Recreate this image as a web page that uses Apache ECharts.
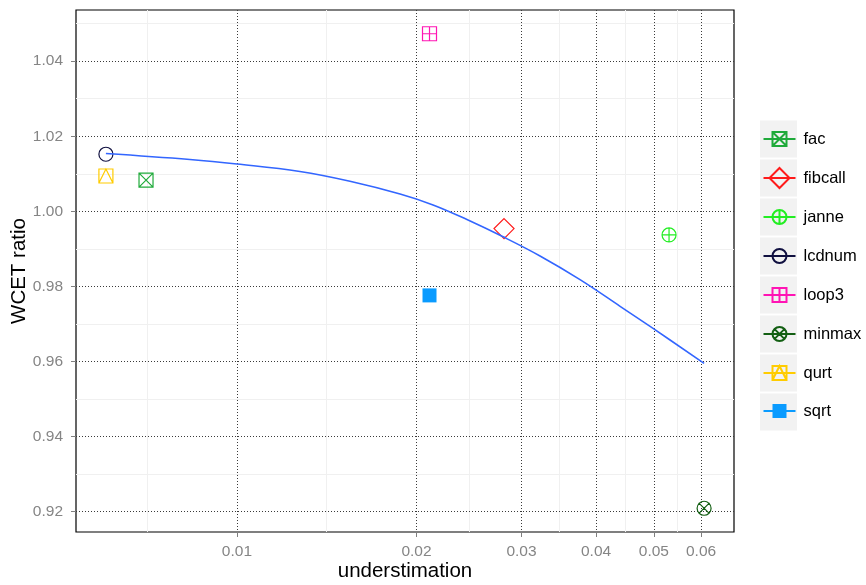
<!DOCTYPE html>
<html>
<head>
<meta charset="utf-8">
<script src="https://cdn.jsdelivr.net/npm/echarts@6/dist/echarts.min.js"></script>
<style>
  html, body { margin: 0; padding: 0; background: #ffffff; }
  #chart { width: 866px; height: 585px; }
</style>
</head>
<body>
<div id="chart"></div>
<script>
// Benchmarks: underestimation vs. WCET ratio
const benchmarks = ['fac', 'fibcall', 'janne', 'lcdnum', 'loop3', 'minmax', 'qurt', 'sqrt'];
const understimation = [0.00704, 0.02804, 0.05302, 0.00603, 0.02103, 0.0607, 0.00603, 0.02103];
const wcetRatio = [1.0083, 0.9954, 0.9937, 1.0152, 1.0473, 0.9209, 1.0094, 0.9776];

// Smoothed trend (loess) sampled along the fitted curve
const trendX = [0.00603, 0.00834, 0.0100, 0.01275, 0.01547, 0.01877, 0.02132, 0.02430, 0.02794, 0.03222, 0.03760, 0.04389, 0.04985, 0.0607];
const trendY = [1.0154, 1.0138, 1.0126, 1.0106, 1.0080, 1.0046, 1.0017, 0.9978, 0.9932, 0.9881, 0.9818, 0.9747, 0.9688, 0.9595];

// Axis breaks
const xTicks = [0.01, 0.02, 0.03, 0.04, 0.05, 0.06];
const xTickLabels = ['0.01', '0.02', '0.03', '0.04', '0.05', '0.06'];
const xMinorTicks = [0.00707, 0.01414, 0.02449, 0.03464, 0.04472, 0.05477];
const yTicks = [0.92, 0.94, 0.96, 0.98, 1.00, 1.02, 1.04];
const yTickLabels = ['0.92', '0.94', '0.96', '0.98', '1.00', '1.02', '1.04'];
const yMinorTicks = [0.93, 0.95, 0.97, 0.99, 1.01, 1.03, 1.05];

// Per-benchmark colour and marker
const colors = ['#1faa3a', '#ff1a1a', '#22ee22', '#101040', '#ff14b4', '#135f13', '#ffcc00', '#0a9bff'];
const PAD = 'M0 0M20 20';
const SQ = 'M3 3H17V17H3Z';
const CIRC = 'M3 10A7 7 0 1 0 17 10A7 7 0 1 0 3 10Z';
const markers = [
  PAD + SQ + 'M3 3L17 17M17 3L3 17',
  PAD + 'M10 0L20 10L10 20L0 10Z',
  PAD + CIRC + 'M10 3V17M3 10H17',
  PAD + CIRC,
  PAD + SQ + 'M10 3V17M3 10H17',
  PAD + CIRC + 'M4.6 4.6L15.4 15.4M15.4 4.6L4.6 15.4',
  PAD + SQ + 'M3 17L10 3L17 17',
  PAD + SQ
];
const filled = [false, false, false, false, false, false, false, true];

// Axis limits with 5% padding (log space for x)
const lx = understimation.map(Math.log10);
const lxMin = Math.min(...lx), lxMax = Math.max(...lx);
const xMin = Math.pow(10, lxMin - 0.05 * (lxMax - lxMin));
const xMax = Math.pow(10, lxMax + 0.05 * (lxMax - lxMin));
const yLo = Math.min(...wcetRatio), yHi = Math.max(...wcetRatio);
const yMin = yLo - 0.05 * (yHi - yLo);
const yMax = yHi + 0.05 * (yHi - yLo);

const FONT = '"Liberation Sans", Arial, Helvetica, sans-serif';
const tickGrey = '#7f7f7f';
const labelGrey = '#858585';

function lookup(ticks, labels) {
  return function (v) {
    for (let i = 0; i < ticks.length; i++) {
      if (Math.abs(ticks[i] - v) < 1e-6 * ticks[i]) return labels[i];
    }
    return '';
  };
}

const pointSeries = benchmarks.map((name, i) => ({
  name: name,
  type: 'line',
  xAxisIndex: 1,
  yAxisIndex: 1,
  data: [[understimation[i], wcetRatio[i]]],
  symbol: 'path://' + markers[i],
  symbolSize: 20,
  showSymbol: true,
  lineStyle: { color: colors[i], width: 1.2 },
  itemStyle: {
    color: filled[i] ? colors[i] : 'transparent',
    borderColor: colors[i],
    borderWidth: filled[i] ? 0 : 1.2
  },
  emphasis: { disabled: true },
  z: 3
}));

const trendSeries = {
  name: 'loess',
  type: 'line',
  xAxisIndex: 1,
  yAxisIndex: 1,
  data: trendX.map((x, i) => [x, trendY[i]]),
  showSymbol: false,
  smooth: 0.4,
  lineStyle: { color: '#3366ff', width: 1.6 },
  emphasis: { disabled: true },
  z: 5
};

// grey key panels behind the legend entries
const KEY_TOP = 120.5, KEY_STEP = 39;
const keyBackgrounds = benchmarks.map((b, i) => ({
  type: 'rect',
  left: 760,
  top: KEY_TOP + KEY_STEP * i,
  shape: { width: 37, height: 37 },
  style: { fill: '#f2f2f2' },
  z: 0
}));

const chart = echarts.init(document.getElementById('chart'), null, { renderer: 'canvas' });
chart.setOption({
  animation: false,
  backgroundColor: '#ffffff',
  textStyle: { fontFamily: FONT },
  grid: {
    left: 76, right: 132, top: 10, bottom: 53,
    containLabel: false,
    outerBoundsMode: 'none',
    show: true, borderColor: '#000000', borderWidth: 1.2, backgroundColor: 'transparent'
  },
  graphic: keyBackgrounds,
  legend: {
    orient: 'vertical',
    left: 762.5,
    top: KEY_TOP + 7.5,
    padding: 0,
    itemWidth: 32,
    itemHeight: 25,
    itemGap: 17,
    data: benchmarks,
    textStyle: { fontSize: 16.5, color: '#000000', fontFamily: FONT, padding: [0, 0, 0, 3] }
  },
  xAxis: [
    {
      // minor grid
      type: 'log', logBase: 10, min: xMin, max: xMax, z: 0,
      axisLine: { show: false },
      axisTick: { show: false, customValues: xMinorTicks },
      axisLabel: { show: false, customValues: xMinorTicks },
      splitLine: { show: true, lineStyle: { color: '#f0f0f0', width: 1 } }
    },
    {
      type: 'log', logBase: 10, min: xMin, max: xMax, position: 'bottom', z: 1,
      name: 'understimation', nameLocation: 'middle', nameGap: 29, nameMoveOverlap: false,
      nameTextStyle: { fontSize: 20.5, color: '#000000', fontFamily: FONT },
      axisLine: { show: false },
      axisTick: { show: true, length: 5, lineStyle: { color: tickGrey, width: 1 }, customValues: xTicks },
      axisLabel: { color: labelGrey, fontSize: 15.5, margin: 12, fontFamily: FONT, customValues: xTicks, formatter: lookup(xTicks, xTickLabels) },
      splitLine: { show: true, lineStyle: { color: '#3a3a3a', width: 1, type: [1, 2] } }
    }
  ],
  yAxis: [
    {
      type: 'value', min: yMin, max: yMax, z: 0,
      axisLine: { show: false },
      axisTick: { show: false, customValues: yMinorTicks },
      axisLabel: { show: false, customValues: yMinorTicks },
      splitLine: { show: true, lineStyle: { color: '#f0f0f0', width: 1 } }
    },
    {
      type: 'value', min: yMin, max: yMax, position: 'left', z: 1,
      name: 'WCET ratio', nameLocation: 'middle', nameGap: 46, nameRotate: 90, nameMoveOverlap: false,
      nameTextStyle: { fontSize: 20.5, color: '#000000', fontFamily: FONT },
      axisLine: { show: false },
      axisTick: { show: true, length: 5, lineStyle: { color: tickGrey, width: 1 }, customValues: yTicks },
      axisLabel: { color: labelGrey, fontSize: 15.5, margin: 13, fontFamily: FONT, customValues: yTicks, formatter: lookup(yTicks, yTickLabels) },
      splitLine: { show: true, lineStyle: { color: '#3a3a3a', width: 1, type: [1, 2] } }
    }
  ],
  series: pointSeries.concat([trendSeries])
});
</script>
</body>
</html>
